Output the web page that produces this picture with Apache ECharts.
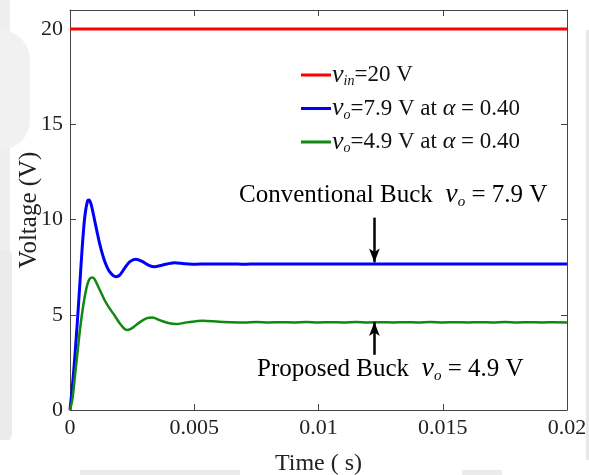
<!DOCTYPE html>
<html><head><meta charset="utf-8">
<script src="https://cdn.jsdelivr.net/npm/echarts@6/dist/echarts.min.js"></script>
<style>html,body{margin:0;padding:0;background:#fff}#c{width:589px;height:475px}</style>
</head><body><div id="c"></div>
<script>
// ---- data (time in s, voltage in V) ----
const xTicks = [0, 0.005, 0.01, 0.015, 0.02];
const yTicks = [0, 5, 10, 15, 20];
const vinData = [[0, 20], [0.02, 20]];
const convTransient = [[0,0],[0.0001,1.3],[0.0002,2.9],[0.0003,4.7],[0.0004,6.7],[0.0005,8.7],[0.0006,10.2],[0.0007,10.95],[0.00076,11.02],[0.00085,10.8],[0.001,9.9],[0.0012,8.7],[0.0014,7.8],[0.0016,7.25],[0.00185,7.0],[0.002,7.08],[0.0022,7.45],[0.0024,7.78],[0.00265,7.91],[0.0029,7.8],[0.0032,7.58],[0.0034,7.52],[0.0037,7.6],[0.0042,7.73],[0.0046,7.68],[0.005,7.65]];
const convSteady = [[0.0055,7.67],[0.006,7.66],[0.0065,7.67],[0.007,7.65],[0.0075,7.67],[0.008,7.66],[0.0085,7.66],[0.009,7.67],[0.0095,7.66],[0.01,7.66],[0.0105,7.67],[0.011,7.66],[0.0115,7.67],[0.012,7.66],[0.0125,7.67],[0.013,7.66],[0.0135,7.67],[0.014,7.66],[0.0145,7.67],[0.015,7.66],[0.0155,7.67],[0.016,7.66],[0.0165,7.67],[0.017,7.66],[0.0175,7.67],[0.018,7.66],[0.0185,7.67],[0.019,7.66],[0.0195,7.67],[0.02,7.66]];
const propTransient = [[0,0],[0.0001,0.6],[0.0002,1.8],[0.0003,3.0],[0.0004,4.2],[0.0005,5.2],[0.0006,6.0],[0.0007,6.6],[0.0008,6.9],[0.00091,6.96],[0.001,6.85],[0.0012,6.3],[0.0014,5.75],[0.0016,5.32],[0.0018,4.95],[0.002,4.55],[0.0022,4.25],[0.00232,4.2],[0.0025,4.3],[0.0028,4.6],[0.0031,4.82],[0.00332,4.85],[0.0036,4.72],[0.004,4.55],[0.00428,4.51],[0.0047,4.6],[0.00534,4.69],[0.006,4.63]];
const propSteady = [[0.0065,4.61],[0.007,4.6],[0.0075,4.62],[0.008,4.6],[0.0085,4.61],[0.009,4.6],[0.0095,4.62],[0.01,4.6],[0.0105,4.61],[0.011,4.6],[0.0115,4.62],[0.012,4.6],[0.0125,4.61],[0.013,4.6],[0.0135,4.61],[0.014,4.6],[0.0145,4.62],[0.015,4.6],[0.0155,4.61],[0.016,4.6],[0.0165,4.61],[0.017,4.6],[0.0175,4.62],[0.018,4.6],[0.0185,4.61],[0.019,4.6],[0.0195,4.61],[0.02,4.6]];
const convData = convTransient.concat(convSteady);
const propData = propTransient.concat(propSteady);
const arrowT = 0.01225;
const convArrow = [10.1, 7.75];
const propArrow = [2.9, 4.62];
const legendNames = ['vin', 'vconv', 'vprop'];

const FONT = 'Liberation Serif';
const chart = echarts.init(document.getElementById('c'), null, {renderer: 'canvas'});
const richLeg = {
  v: {fontFamily: FONT, fontStyle: 'italic', fontSize: 26, color: '#111'},
  s: {fontFamily: FONT, fontStyle: 'italic', fontSize: 14, color: '#111', padding: [13, 0, 0, 0]},
  t: {fontFamily: FONT, fontSize: 23, color: '#111'},
  a: {fontFamily: FONT, fontStyle: 'italic', fontSize: 24, color: '#111'}
};
const richAnn = {
  v: {fontFamily: FONT, fontStyle: 'italic', fontSize: 28, color: '#111'},
  s: {fontFamily: FONT, fontStyle: 'italic', fontSize: 15, color: '#111', padding: [14, 0, 0, 0]},
  t: {fontFamily: FONT, fontSize: 25, color: '#111'}
};
const legendText = {
  vin: '{v|v}{s|in}{t|=20 V}',
  vconv: '{v|v}{s|o}{t|=7.9 V at }{a|α}{t| = 0.40}',
  vprop: '{v|v}{s|o}{t|=4.9 V at }{a|α}{t| = 0.40}'
};
const axisLineStyle = {color: '#444', width: 1};
chart.setOption({
  animation: false,
  backgroundColor: '#fff',
  grid: {left: 70, right: 22, top: 10, bottom: 65, show: false, containLabel: false, outerBoundsMode: 'none'},
  graphic: [
    {type: 'rect', z: -10, shape: {x: 0, y: 0, width: 10, height: 440}, style: {fill: '#eeeeee'}},
    {type: 'rect', z: -10, shape: {x: 0, y: 30, width: 30, height: 120, r: [0, 30, 30, 0]}, style: {fill: '#f1f1f1'}},
    {type: 'rect', z: -10, shape: {x: 0, y: 250, width: 12, height: 190, r: [0, 6, 6, 0]}, style: {fill: '#ebebeb'}},
    {type: 'rect', z: -10, shape: {x: 80, y: 470, width: 160, height: 5}, style: {fill: '#ebebeb'}},
    {type: 'rect', z: -10, shape: {x: 462, y: 470, width: 40, height: 5}, style: {fill: '#ebebeb'}},
    {type: 'rect', z: -10, shape: {x: 586, y: 30, width: 3, height: 430}, style: {fill: '#e8e8e8'}},
    {type: 'text', left: 239, top: 181, style: {rich: richAnn, text: '{t|Conventional Buck  }{v|v}{s|o}{t| = 7.9 V}'}},
    {type: 'text', left: 257, top: 355, style: {rich: richAnn, text: '{t|Proposed Buck  }{v|v}{s|o}{t| = 4.9 V}'}}
  ],
  legend: {
    data: legendNames, orient: 'vertical', left: 296, top: 57, itemGap: 7,
    itemWidth: 30, itemHeight: 3, icon: 'rect',
    formatter: n => legendText[n],
    textStyle: {rich: richLeg, fontFamily: FONT, fontSize: 23, color: '#111', padding: [0, 0, 0, -4]}
  },
  xAxis: [
    {type: 'value', min: 0, max: 0.02, interval: 0.005, position: 'bottom',
     name: 'Time ( s)', nameLocation: 'middle', nameGap: 42,
     nameTextStyle: {fontFamily: FONT, fontSize: 24, color: '#222'},
     axisLine: {show: true, onZero: false, lineStyle: axisLineStyle},
     axisTick: {show: true, inside: true, length: 6, lineStyle: axisLineStyle},
     axisLabel: {fontFamily: FONT, fontSize: 22, color: '#222', margin: 7,
       formatter: v => xTicks.includes(v) ? String(v) : ''},
     splitLine: {show: false}},
    {type: 'value', min: 0, max: 0.02, interval: 0.005, position: 'top',
     axisLine: {show: true, onZero: false, lineStyle: axisLineStyle},
     axisTick: {show: true, inside: true, length: 6, lineStyle: axisLineStyle},
     axisLabel: {show: false}, splitLine: {show: false}}
  ],
  yAxis: [
    {type: 'value', min: 0, max: 21, interval: 5, position: 'left',
     name: 'Voltage (V)', nameLocation: 'middle', nameGap: 28, nameMoveOverlap: false,
     nameTextStyle: {fontFamily: FONT, fontSize: 25, color: '#222'},
     axisLine: {show: true, onZero: false, lineStyle: axisLineStyle},
     axisTick: {show: true, inside: true, length: 6, lineStyle: axisLineStyle},
     axisLabel: {fontFamily: FONT, fontSize: 22, color: '#222', margin: 7,
       formatter: v => yTicks.includes(v) ? String(v) : ''},
     splitLine: {show: false}},
    {type: 'value', min: 0, max: 21, interval: 5, position: 'right',
     axisLine: {show: true, onZero: false, lineStyle: axisLineStyle},
     axisTick: {show: true, inside: true, length: 6, lineStyle: axisLineStyle},
     axisLabel: {show: false}, splitLine: {show: false}}
  ],
  series: [
    {name: 'vin', type: 'line', data: vinData, showSymbol: false, symbol: 'none',
     lineStyle: {color: '#ff0000', width: 3}, itemStyle: {color: '#ff0000'}},
    {name: 'vconv', type: 'line', data: convData, showSymbol: false, symbol: 'none', smooth: 0.3,
     lineStyle: {color: '#0000ff', width: 3}, itemStyle: {color: '#0000ff'},
     markLine: {silent: true, symbol: ['none', 'arrow'], symbolSize: [8, 14], label: {show: false},
       lineStyle: {color: '#000', width: 2.5, type: 'solid'},
       data: [[{coord: [arrowT, convArrow[0]]}, {coord: [arrowT, convArrow[1]]}]]}},
    {name: 'vprop', type: 'line', data: propData, showSymbol: false, symbol: 'none', smooth: 0.3,
     lineStyle: {color: '#118811', width: 2.5}, itemStyle: {color: '#118811'},
     markLine: {silent: true, symbol: ['none', 'arrow'], symbolSize: [8, 14], label: {show: false},
       lineStyle: {color: '#000', width: 2.5, type: 'solid'},
       data: [[{coord: [arrowT, propArrow[0]]}, {coord: [arrowT, propArrow[1]]}]]}}
  ]
});
</script></body></html>
